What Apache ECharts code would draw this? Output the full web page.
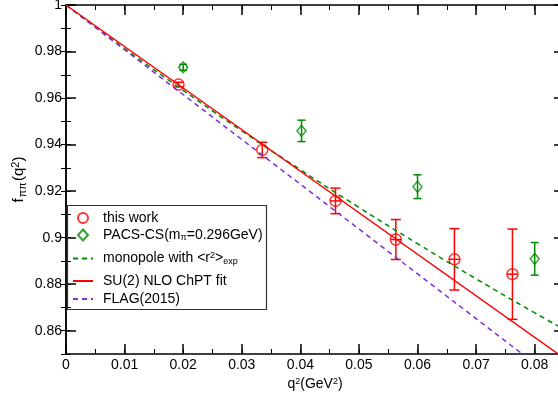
<!DOCTYPE html>
<html>
<head>
<meta charset="utf-8">
<script src="https://cdn.jsdelivr.net/npm/echarts@6/dist/echarts.min.js"></script>
<style>
  html, body { margin: 0; padding: 0; background: #fff; }
  #chart { width: 558px; height: 396px; }
</style>
</head>
<body>
<div id="chart"></div>
<script>
// this work (red circles)
const workQ2 = [0.0192, 0.0335, 0.0460, 0.0563, 0.0663, 0.0762];
const workF = [0.9658, 0.9377, 0.9158, 0.8992, 0.8907, 0.8843];
const workErr = [0.0010, 0.0033, 0.0055, 0.0086, 0.0132, 0.0194];
const workQ2Err = [0, 0, 0.0009, 0.0009, 0.0009, 0.0009];

// PACS-CS (green diamonds)
const pacsQ2 = [0.0200, 0.0402, 0.0600, 0.0800];
const pacsF = [0.9732, 0.9459, 0.9219, 0.8909];
const pacsErr = [0.0013, 0.0046, 0.0051, 0.0070];

// monopole with <r^2>_exp (green dashed)
const monoQ2 = [0, 0.01, 0.02, 0.03, 0.04, 0.05, 0.06, 0.07, 0.08, 0.085];
const monoF = [1, 0.9813, 0.9633, 0.9459, 0.9292, 0.9130, 0.8974, 0.8823, 0.8677, 0.8606];

// SU(2) NLO ChPT fit (red solid)
const fitQ2 = [0, 0.085];
const fitF = [1, 0.8482];

// FLAG(2015) (purple dashed)
const flagQ2 = [0, 0.085];
const flagF = [1, 0.8363];

const RED = '#ff0000';
const GREEN = '#008b00';
const PURPLE = '#7b2fd6';
const FONT = '"Liberation Sans", Arial, Helvetica, sans-serif';

const pairs = (xs, ys) => xs.map((x, i) => [x, ys[i]]);

const chart = echarts.init(document.getElementById('chart'));

// error bars drawn through the axes
function errorBars(color, capHalf) {
  return function (params, api) {
    const x = api.value(0), lo = api.value(1), hi = api.value(2);
    const y = api.value(3), xe = api.value(4);
    const top = api.coord([x, hi]);
    const bot = api.coord([x, lo]);
    const st = { stroke: color, lineWidth: 1.5 };
    const kids = [
      { type: 'line', shape: { x1: top[0], y1: top[1], x2: bot[0], y2: bot[1] }, style: st },
      { type: 'line', shape: { x1: top[0] - capHalf, y1: top[1], x2: top[0] + capHalf, y2: top[1] }, style: st },
      { type: 'line', shape: { x1: bot[0] - capHalf, y1: bot[1], x2: bot[0] + capHalf, y2: bot[1] }, style: st }
    ];
    if (xe > 0) {
      const l = api.coord([x - xe, y]), r = api.coord([x + xe, y]);
      kids.push({ type: 'line', shape: { x1: l[0], y1: l[1], x2: r[0], y2: r[1] }, style: st });
    }
    return { type: 'group', children: kids };
  };
}

const isMult = (v, step) => Math.abs(v / step - Math.round(v / step)) < 1e-6;

const legendRich = {
  sub: { fontSize: 9, fontFamily: FONT, verticalAlign: 'bottom', padding: [6, 0, 0, 0] },
  sup: { fontSize: 9, fontFamily: FONT, verticalAlign: 'top', padding: [0, 0, 6, 0] }
};
const yNameRich = {
  sub: { fontSize: 11, fontFamily: FONT, verticalAlign: 'bottom', padding: [7, 1, 0, 1] },
  sup: { fontSize: 11, fontFamily: FONT, verticalAlign: 'top', padding: [0, 0, 7, 0] }
};
const legendLabels = {
  'this work': 'this work',
  'PACS-CS': 'PACS-CS(m{sub|π}=0.296GeV)',
  'monopole': 'monopole with <r{sup|2}>{sub|exp}',
  'SU(2) NLO ChPT fit': 'SU(2) NLO ChPT fit',
  'FLAG(2015)': 'FLAG(2015)'
};
function legendItem(name, left, top, w, h, pad, isLine) {
  const item = {
    data: [name], left: left, top: top, orient: 'vertical',
    itemWidth: w, itemHeight: h, selectedMode: false, padding: 0,
    formatter: n => legendLabels[n],
    textStyle: { fontSize: 14, fontFamily: FONT, color: '#000', padding: [0, 0, 0, pad], rich: legendRich }
  };
  if (isLine) item.itemStyle = { opacity: 0 };
  return item;
}

const G = { left: 66, top: 5, width: 498, height: 349, outerBoundsMode: 'none' };

const option = {
  animation: false,
  backgroundColor: '#fff',
  grid: [
    G,
    G,
    { left: 66, top: 5, width: 498, height: 325.7, outerBoundsMode: 'none' }
  ],
  xAxis: [
    { // minor ticks + labels
      gridIndex: 0, type: 'value', position: 'bottom', min: 0, max: 0.085, interval: 0.005,
      axisLine: { lineStyle: { color: '#000', width: 1.5 } },
      axisTick: { inside: true, length: 5, lineStyle: { color: '#000', width: 1 } },
      splitLine: { show: false },
      axisLabel: {
        margin: 4, fontSize: 14, fontFamily: FONT, color: '#000',
        formatter: v => isMult(v, 0.01) ? String(Math.round(v * 100) / 100) : ''
      },
      name: 'q{sup|2}(GeV{sup|2})', nameLocation: 'middle', nameGap: 23,
      nameTextStyle: { fontSize: 14, fontFamily: FONT, color: '#000', rich: legendRich }
    },
    {
      gridIndex: 0, type: 'value', position: 'top', min: 0, max: 0.085, interval: 0.005,
      axisLine: { lineStyle: { color: '#000', width: 1.5 } },
      axisTick: { inside: true, length: 5, lineStyle: { color: '#000', width: 1 } },
      axisLabel: { show: false }, splitLine: { show: false }
    },
    { // major ticks
      gridIndex: 1, type: 'value', position: 'bottom', min: 0, max: 0.085, interval: 0.01,
      axisLine: { show: false }, axisLabel: { show: false }, splitLine: { show: false },
      axisTick: { inside: true, length: 10, lineStyle: { color: '#000', width: 1.5 } }
    },
    {
      gridIndex: 1, type: 'value', position: 'top', min: 0, max: 0.085, interval: 0.01,
      axisLine: { show: false }, axisLabel: { show: false }, splitLine: { show: false },
      axisTick: { inside: true, length: 10, lineStyle: { color: '#000', width: 1.5 } }
    },
    {
      gridIndex: 2, type: 'value', min: 0, max: 0.085, show: false
    }
  ],
  yAxis: [
    {
      gridIndex: 0, type: 'value', position: 'left', min: 0.85, max: 1, interval: 0.01,
      axisLine: { lineStyle: { color: '#000', width: 1.5 } },
      axisTick: { inside: true, length: 5, lineStyle: { color: '#000', width: 1 } },
      axisLabel: { show: false }, splitLine: { show: false },
      name: 'f{sub|ππ}(q{sup|2})', nameLocation: 'middle', nameGap: 38, nameRotate: 90,
      nameTextStyle: { fontSize: 15, fontFamily: FONT, color: '#000', rich: yNameRich }
    },
    {
      gridIndex: 0, type: 'value', position: 'right', min: 0.85, max: 1, interval: 0.01,
      axisLine: { lineStyle: { color: '#000', width: 1.5 } },
      axisTick: { inside: true, length: 5, lineStyle: { color: '#000', width: 1 } },
      axisLabel: { show: false }, splitLine: { show: false }
    },
    {
      gridIndex: 1, type: 'value', min: 0.85, max: 1, show: false
    },
    { // major ticks + labels
      gridIndex: 2, type: 'value', position: 'left', min: 0.86, max: 1, interval: 0.02,
      axisLine: { show: false }, splitLine: { show: false },
      axisTick: { inside: true, length: 10, lineStyle: { color: '#000', width: 1.5 } },
      axisLabel: { margin: 4, fontSize: 14, fontFamily: FONT, color: '#000' }
    },
    {
      gridIndex: 2, type: 'value', position: 'right', min: 0.86, max: 1, interval: 0.02,
      axisLine: { show: false }, splitLine: { show: false }, axisLabel: { show: false },
      axisTick: { inside: true, length: 10, lineStyle: { color: '#000', width: 1.5 } }
    }
  ],
  legend: [
    legendItem('this work', 77, 211, 10, 10, 10, false),
    legendItem('PACS-CS', 77, 228, 10, 11, 10, false),
    legendItem('monopole', 72, 251, 20, 10, 5, true),
    legendItem('SU(2) NLO ChPT fit', 72, 274, 20, 10, 5, true),
    legendItem('FLAG(2015)', 72, 292, 20, 10, 5, true)
  ],
  graphic: [
    { type: 'rect', shape: { x: 67.5, y: 205.5, width: 199, height: 104 },
      style: { fill: 'none', stroke: '#333', lineWidth: 1.2 }, z: 10 }
  ],
  series: [
    {
      name: 'monopole', type: 'line', xAxisIndex: 0, yAxisIndex: 0,
      data: pairs(monoQ2, monoF), showSymbol: false, symbol: 'none', smooth: true,
      lineStyle: { color: GREEN, width: 1.5, type: [5, 4] }, itemStyle: { color: GREEN }
    },
    {
      name: 'FLAG(2015)', type: 'line', xAxisIndex: 0, yAxisIndex: 0,
      data: pairs(flagQ2, flagF), showSymbol: false, symbol: 'none',
      lineStyle: { color: PURPLE, width: 1.5, type: [5, 4] }, itemStyle: { color: PURPLE }
    },
    {
      name: 'SU(2) NLO ChPT fit', type: 'line', xAxisIndex: 0, yAxisIndex: 0,
      data: pairs(fitQ2, fitF), showSymbol: false, symbol: 'none',
      lineStyle: { color: RED, width: 1.5 }, itemStyle: { color: RED }
    },
    {
      name: 'work-err', type: 'custom', xAxisIndex: 0, yAxisIndex: 0,
      renderItem: errorBars(RED, 5),
      encode: { x: 0, y: [1, 2] },
      data: workQ2.map((x, i) => [x, workF[i] - workErr[i], workF[i] + workErr[i], workF[i], workQ2Err[i]])
    },
    {
      name: 'pacs-err', type: 'custom', xAxisIndex: 0, yAxisIndex: 0,
      renderItem: errorBars(GREEN, 4),
      encode: { x: 0, y: [1, 2] },
      data: pacsQ2.map((x, i) => [x, pacsF[i] - pacsErr[i], pacsF[i] + pacsErr[i], pacsF[i], 0])
    },
    {
      name: 'this work', type: 'scatter', xAxisIndex: 0, yAxisIndex: 0,
      data: pairs(workQ2, workF), symbol: 'circle', symbolSize: 11,
      itemStyle: { color: 'rgba(0,0,0,0)', borderColor: RED, borderWidth: 1.5 }
    },
    {
      name: 'PACS-CS', type: 'scatter', xAxisIndex: 0, yAxisIndex: 0,
      data: pairs(pacsQ2, pacsF), symbol: 'diamond', symbolSize: [9, 11],
      itemStyle: { color: 'rgba(0,0,0,0)', borderColor: GREEN, borderWidth: 1.5 }
    }
  ]
};

chart.setOption(option);
</script>
</body>
</html>
